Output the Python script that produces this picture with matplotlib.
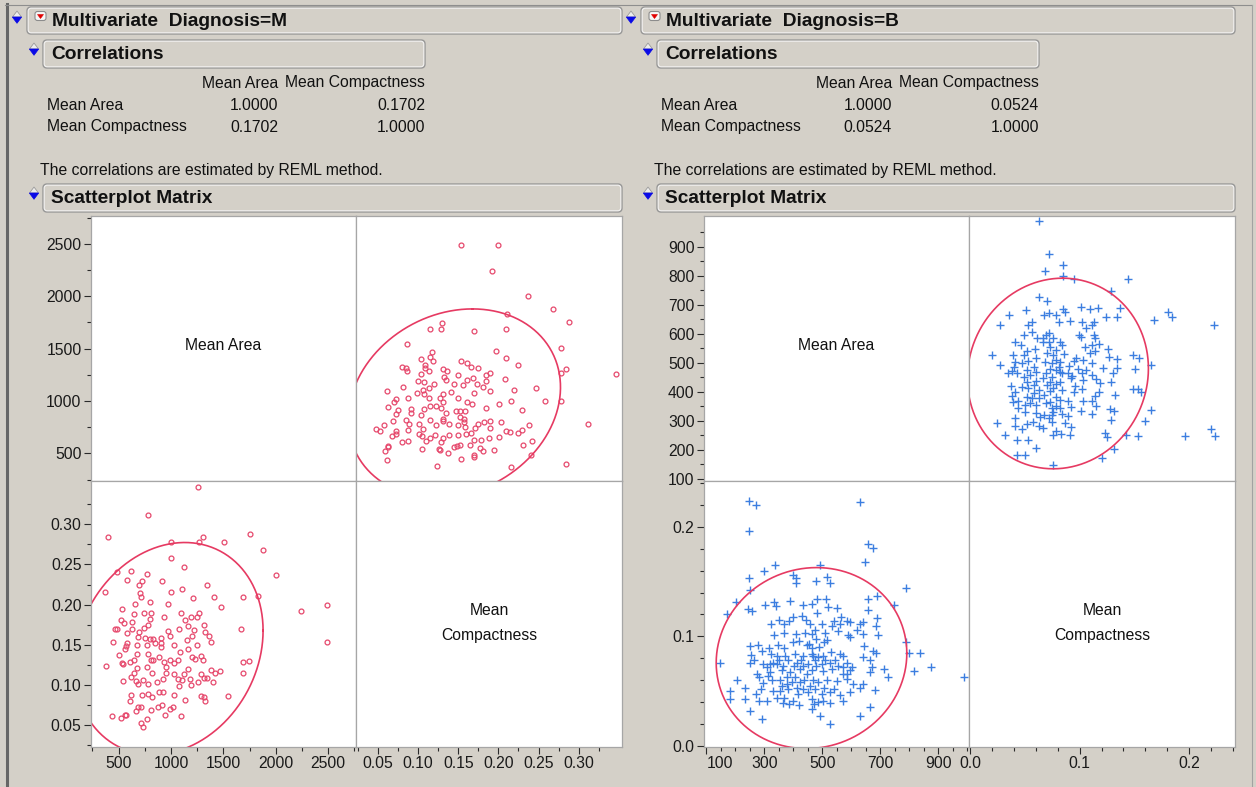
import numpy as np
import matplotlib.pyplot as plt
from matplotlib.patches import FancyBboxPatch, Polygon
from matplotlib.lines import Line2D
from matplotlib.transforms import Affine2D
from matplotlib.ticker import FixedLocator

# ---- values ----
variables = ['Mean Area', 'Mean Compactness']
groups = ['M', 'B']
corr_m = 0.1702
corr_b = 0.0524

# 95% density ellipse parameters (mean, sd) read from the ellipse extents
ell_m = dict(mx=978.4, sx=367.9, my=0.1452, sy=0.0540, r=corr_m)
ell_b = dict(mx=462.8, sx=134.3, my=0.0801, sy=0.0338, r=corr_b)

# (mean area, mean compactness), Diagnosis = M
m_pairs = [
    (1253, 0.346), (778, 0.312), (399, 0.284), (1753, 0.288), (1003, 0.278), (1263, 0.278),
    (1310, 0.284), (1509, 0.278), (1874, 0.268), (1003, 0.258), (1120, 0.247), (2000, 0.237),
    (487, 0.241), (620, 0.242), (769, 0.238), (582, 0.231), (721, 0.229), (918, 0.230),
    (693, 0.224), (1348, 0.224), (371, 0.216), (1003, 0.216), (1104, 0.219), (705, 0.214),
    (715, 0.210), (1411, 0.210), (1684, 0.210), (1832, 0.211), (1212, 0.208), (2241, 0.192),
    (2487, 0.200), (2487, 0.153), (528, 0.195), (658, 0.201), (800, 0.203), (972, 0.201),
    (1481, 0.197), (649, 0.188), (740, 0.189), (810, 0.190), (1095, 0.190), (934, 0.184),
    (1193, 0.185), (1266, 0.189), (1244, 0.185), (519, 0.181), (800, 0.182), (553, 0.177),
    (630, 0.178), (782, 0.175), (1136, 0.181), (1316, 0.175), (461, 0.170), (487, 0.170),
    (627, 0.170), (744, 0.171), (1165, 0.173), (1329, 0.166), (1671, 0.169), (582, 0.165),
    (690, 0.166), (968, 0.167), (1079, 0.169), (1215, 0.168), (680, 0.160), (747, 0.159),
    (804, 0.157), (829, 0.157), (908, 0.158), (987, 0.161), (1202, 0.161), (1367, 0.161),
    (449, 0.153), (575, 0.152), (674, 0.150), (848, 0.152), (908, 0.152), (1032, 0.150),
    (1149, 0.156), (1158, 0.145), (1250, 0.150), (1386, 0.153), (556, 0.145), (572, 0.149),
    (769, 0.150), (908, 0.147), (1085, 0.141), (503, 0.137), (677, 0.139), (782, 0.139),
    (889, 0.135), (1199, 0.135), (1285, 0.136), (531, 0.127), (611, 0.129), (649, 0.131),
    (813, 0.131), (829, 0.131), (937, 0.129), (991, 0.131), (1063, 0.131), (1231, 0.132),
    (1301, 0.131), (383, 0.124), (544, 0.126), (671, 0.121), (766, 0.122), (956, 0.122),
    (1032, 0.127), (1158, 0.120), (1383, 0.119), (1468, 0.117), (1744, 0.130), (1684, 0.128),
    (649, 0.115), (820, 0.115), (949, 0.115), (1032, 0.113), (1123, 0.113), (1285, 0.114),
    (1421, 0.115), (1684, 0.115), (621, 0.110), (668, 0.105), (544, 0.105), (728, 0.106),
    (924, 0.107), (1066, 0.107), (1107, 0.106), (1180, 0.107), (1316, 0.109), (1341, 0.109),
    (1256, 0.104), (1399, 0.104), (867, 0.104), (680, 0.101), (782, 0.101), (1079, 0.098),
    (1190, 0.100), (614, 0.087), (725, 0.088), (782, 0.089), (889, 0.091), (924, 0.091),
    (1028, 0.088), (1288, 0.086), (1313, 0.085), (1548, 0.086), (604, 0.080), (820, 0.085),
    (1136, 0.081), (1326, 0.080), (668, 0.067), (687, 0.073), (712, 0.072), (810, 0.069),
    (873, 0.072), (911, 0.075), (943, 0.063), (991, 0.070), (1019, 0.072), (433, 0.061),
    (519, 0.059), (572, 0.063), (563, 0.062), (769, 0.057), (1098, 0.061), (709, 0.052),
    (731, 0.047),
]

# (mean area, mean compactness), Diagnosis = B
b_pairs = [
    (248, 0.224), (272, 0.220), (629, 0.223), (246, 0.196), (656, 0.184), (674, 0.181),
    (648, 0.168), (492, 0.165), (338, 0.165), (299, 0.160), (247, 0.153), (400, 0.156),
    (408, 0.153), (408, 0.149), (478, 0.151), (517, 0.154), (525, 0.149), (249, 0.142),
    (787, 0.144), (204, 0.131), (171, 0.120), (245, 0.125), (259, 0.123), (303, 0.129),
    (333, 0.131), (342, 0.128), (389, 0.132), (435, 0.129), (464, 0.130), (483, 0.134),
    (514, 0.134), (520, 0.127), (483, 0.121), (549, 0.126), (656, 0.134), (659, 0.124),
    (687, 0.137), (747, 0.129), (690, 0.117), (563, 0.118), (541, 0.114), (323, 0.111),
    (352, 0.115), (369, 0.111), (386, 0.114), (398, 0.118), (430, 0.119), (443, 0.115),
    (458, 0.111), (498, 0.111), (533, 0.109), (561, 0.111), (584, 0.114), (595, 0.113),
    (630, 0.111), (641, 0.113), (685, 0.109), (693, 0.101), (334, 0.101), (369, 0.103),
    (408, 0.102), (441, 0.103), (465, 0.102), (474, 0.106), (509, 0.103), (555, 0.105),
    (589, 0.101), (620, 0.106), (641, 0.102), (400, 0.095), (418, 0.096), (455, 0.093),
    (480, 0.098), (506, 0.095), (515, 0.097), (595, 0.099), (790, 0.095), (251, 0.091),
    (279, 0.092), (316, 0.089), (346, 0.092), (368, 0.089), (446, 0.092), (463, 0.089),
    (487, 0.090), (529, 0.086), (561, 0.084), (644, 0.091), (674, 0.087), (685, 0.085),
    (800, 0.085), (837, 0.085), (254, 0.083), (264, 0.078), (293, 0.087), (322, 0.084),
    (343, 0.082), (371, 0.082), (405, 0.084), (434, 0.082), (463, 0.084), (486, 0.081),
    (503, 0.082), (572, 0.082), (641, 0.081), (664, 0.078), (148, 0.076), (251, 0.076),
    (297, 0.075), (318, 0.075), (343, 0.075), (382, 0.078), (404, 0.073), (427, 0.078),
    (452, 0.075), (463, 0.069), (475, 0.078), (498, 0.075), (526, 0.076), (543, 0.078),
    (584, 0.076), (601, 0.072), (670, 0.072), (712, 0.070), (875, 0.072), (817, 0.068),
    (988, 0.063), (274, 0.066), (309, 0.072), (320, 0.067), (360, 0.069), (387, 0.067),
    (423, 0.070), (446, 0.066), (503, 0.068), (532, 0.070), (572, 0.066), (595, 0.069),
    (664, 0.067), (727, 0.063), (205, 0.060), (235, 0.053), (182, 0.050), (182, 0.043),
    (235, 0.043), (280, 0.063), (295, 0.057), (290, 0.052), (326, 0.060), (331, 0.050),
    (354, 0.060), (377, 0.063), (395, 0.058), (406, 0.063), (423, 0.058), (437, 0.060),
    (469, 0.060), (486, 0.058), (515, 0.060), (549, 0.059), (584, 0.061), (607, 0.056),
    (630, 0.053), (641, 0.056), (683, 0.051), (272, 0.047), (280, 0.041), (309, 0.041),
    (343, 0.044), (354, 0.050), (368, 0.044), (383, 0.052), (400, 0.041), (417, 0.047),
    (435, 0.052), (452, 0.049), (463, 0.043), (475, 0.052), (498, 0.047), (507, 0.053),
    (526, 0.049), (540, 0.052), (561, 0.046), (572, 0.041), (595, 0.049), (366, 0.039),
    (386, 0.038), (421, 0.037), (463, 0.034), (471, 0.038), (486, 0.040), (503, 0.041),
    (526, 0.039), (664, 0.035), (630, 0.027), (251, 0.032), (291, 0.024), (492, 0.027),
    (526, 0.020), (349, 0.078), (366, 0.073), (412, 0.076), (435, 0.073), (467, 0.082),
    (480, 0.073), (509, 0.078), (555, 0.073), (570, 0.072), (584, 0.066), (458, 0.055),
    (360, 0.055), (314, 0.064), (331, 0.076), (377, 0.056), (412, 0.053),
]

# axis ranges and tick values
m_area_lim = (236, 2766)
m_comp_lim = (0.0226, 0.354)
b_area_lim = (92, 1006)
b_comp_lim = (-0.0012, 0.242)

m_area_major = [500, 1000, 1500, 2000, 2500]
m_area_minor = [250, 750, 1250, 1750, 2250, 2750]
m_comp_major = [0.05, 0.10, 0.15, 0.20, 0.25, 0.30]
m_comp_minor = [0.025, 0.075, 0.125, 0.175, 0.225, 0.275, 0.325]
b_area_y_major = [100, 200, 300, 400, 500, 600, 700, 800, 900]
b_area_y_minor = [150, 250, 350, 450, 550, 650, 750, 850, 950]
b_area_x_major = [100, 300, 500, 700, 900]
b_area_x_minor = [150, 200, 250, 350, 400, 450, 550, 600, 650, 750, 800, 850, 950, 1000]
b_comp_major = [0.0, 0.1, 0.2]
b_comp_minor = [0.02, 0.04, 0.06, 0.08, 0.12, 0.14, 0.16, 0.18, 0.22, 0.24]

# ---- styling ----
W, H = 1256, 787
BG = '#D4D0C8'
RED = '#E6486C'
ELL = '#E63A62'
BLUE = '#3C7EE0'
FS = 11.3

plt.rcParams['font.family'] = ['Liberation Sans', 'DejaVu Sans']

fig = plt.figure(figsize=(W / 100, H / 100), dpi=100, facecolor=BG)
pix = Affine2D().scale(1, -1).translate(0, H)   # pixel coords, origin top-left


def rect(x0, y0, x1, y1):
    return [x0 / W, 1 - y1 / H, (x1 - x0) / W, (y1 - y0) / H]


def txt(x, y, s, **kw):
    kw.setdefault('fontsize', FS)
    kw.setdefault('va', 'center')
    fig.text(x, y, s, transform=pix, color='#111111', **kw)


def outline_box(x0, y0, x1, y1, title, tx):
    fig.add_artist(FancyBboxPatch((x0, y0), x1 - x0, y1 - y0,
                                  boxstyle='round,pad=0,rounding_size=4',
                                  transform=pix, fc=BG, ec='#989898', lw=1.0))
    fig.add_artist(FancyBboxPatch((x0 + 1.2, y0 + 1.2), x1 - x0 - 2.4, y1 - y0 - 2.4,
                                  boxstyle='round,pad=0,rounding_size=3',
                                  transform=pix, fc='none', ec='#F4F4F4', lw=0.7))
    txt(tx, (y0 + y1) / 2 + 0.5, title, fontsize=13.8, fontweight='bold')


def disclosure(cx, cy):
    fig.add_artist(Polygon([(cx - 4.5, cy), (cx, cy - 6), (cx + 4.5, cy)], closed=True,
                           transform=pix, fc='#EDEDED', ec='#9A9A9A', lw=0.6))
    fig.add_artist(Polygon([(cx - 4.7, cy), (cx + 4.7, cy), (cx, cy + 6.3)], closed=True,
                           transform=pix, fc='#0A0AE6', ec='#0A0AE6', lw=0.5))


def red_menu(x0, y0):
    fig.add_artist(FancyBboxPatch((x0, y0), 11, 9, boxstyle='round,pad=0,rounding_size=2.5',
                                  transform=pix, fc='#F6F6F6', ec='#8C8C8C', lw=0.8))
    fig.add_artist(Polygon([(x0 + 2.5, y0 + 3), (x0 + 8.5, y0 + 3), (x0 + 5.5, y0 + 7)],
                           closed=True, transform=pix, fc='#E00000', ec='#E00000', lw=0.4))


def ellipse(mx, sx, my, sy, r):
    t = np.linspace(0, 2 * np.pi, 361)
    c = np.sqrt(5.991)
    u, v = np.cos(t), np.sin(t)
    return mx + c * sx * u, my + c * sy * (r * u + np.sqrt(1 - r * r) * v)


def panel(box):
    ax = fig.add_axes(rect(*box))
    ax.set_facecolor('white')
    for s in ax.spines.values():
        s.set_color('#A6A6A6')
        s.set_linewidth(0.9)
    ax.tick_params(which='both', left=False, bottom=False, labelleft=False, labelbottom=False,
                   direction='out', color='#2A2A2A', width=0.8, labelsize=FS,
                   labelcolor='#1A1A1A', pad=1.8)
    ax.tick_params(which='major', length=5)
    ax.tick_params(which='minor', length=2.6)
    return ax


def yaxis_on(ax, major, minor, fmt):
    ax.tick_params(which='both', left=True, labelleft=True)
    ax.yaxis.set_major_locator(FixedLocator(major))
    ax.yaxis.set_minor_locator(FixedLocator(minor))
    ax.yaxis.set_major_formatter(fmt)


def xaxis_on(ax, major, minor, fmt):
    ax.tick_params(which='both', bottom=True, labelbottom=True)
    ax.xaxis.set_major_locator(FixedLocator(major))
    ax.xaxis.set_minor_locator(FixedLocator(minor))
    ax.xaxis.set_major_formatter(fmt)


def report(x0, right, grp, corr, pairs, ell, area_lim, comp_lim, mark, ticks):
    # outline headers
    outline_box(x0 + 27, 7, right, 34, f'Multivariate  Diagnosis={grp}', x0 + 52)
    disclosure(x0 + 17, 17)
    red_menu(x0 + 35, 11.5)
    outline_box(x0 + 43, 40, x0 + 425, 68, 'Correlations', x0 + 51)
    disclosure(x0 + 34, 49)
    outline_box(x0 + 43, 184, right, 212, 'Scatterplot Matrix', x0 + 51)
    disclosure(x0 + 34, 193)

    # correlation table
    c1, c2 = x0 + 278, x0 + 425
    txt(c1, 83, variables[0], ha='right')
    txt(c2, 83, variables[1], ha='right')
    cm = [[1.0, corr], [corr, 1.0]]
    for i, name in enumerate(variables):
        y = 105 + 22 * i
        txt(x0 + 47, y, name, ha='left')
        txt(c1, y, f'{cm[i][0]:.4f}', ha='right')
        txt(c2, y, f'{cm[i][1]:.4f}', ha='right')
    txt(x0 + 40, 171, 'The correlations are estimated by REML method.', ha='left')

    # scatterplot matrix
    xs = [right - 531, right - 266, right]
    ys = [216, 481, 747]
    area = np.array([p[0] for p in pairs])
    comp = np.array([p[1] for p in pairs])
    ex, ey = ellipse(**ell)

    ul = panel((xs[0], ys[0], xs[1], ys[1]))
    ur = panel((xs[1], ys[0], xs[2], ys[1]))
    ll = panel((xs[0], ys[1], xs[1], ys[2]))
    lr = panel((xs[1], ys[1], xs[2], ys[2]))

    ul.set_xlim(0, 1)
    ul.set_ylim(*area_lim)
    ul.text(0.5, 0.51, variables[0], transform=ul.transAxes, ha='center', va='center',
            fontsize=FS, color='#111111')
    yaxis_on(ul, *ticks['area_y'], '{x:g}')

    lr.set_xlim(*comp_lim)
    lr.set_ylim(0, 1)
    lr.text(0.5, 0.515, 'Mean', transform=lr.transAxes, ha='center', va='center',
            fontsize=FS, color='#111111')
    lr.text(0.5, 0.418, 'Compactness', transform=lr.transAxes, ha='center', va='center',
            fontsize=FS, color='#111111')
    xaxis_on(lr, *ticks['comp'])

    ur.set_xlim(*comp_lim)
    ur.set_ylim(*area_lim)
    ur.plot(comp, area, **mark)
    ur.plot(ey, ex, color=ELL, lw=1.2)

    ll.set_xlim(*area_lim)
    ll.set_ylim(*comp_lim)
    ll.plot(area, comp, **mark)
    ll.plot(ex, ey, color=ELL, lw=1.2)
    yaxis_on(ll, *ticks['comp'])
    xaxis_on(ll, *ticks['area_x'], '{x:g}')
    return ll


m_mark = dict(ls='none', marker='o', ms=3.5, mfc='none', mec=RED, mew=0.9)
b_mark = dict(ls='none', marker='+', ms=6.4, mec=BLUE, mew=1.0)

report(0, 622, groups[0], corr_m, m_pairs, ell_m, m_area_lim, m_comp_lim, m_mark,
       {'area_y': (m_area_major, m_area_minor),
        'area_x': (m_area_major, m_area_minor),
        'comp': (m_comp_major, m_comp_minor, '{x:.2f}')})
b_ll = report(614, 1235, groups[1], corr_b, b_pairs, ell_b, b_area_lim, b_comp_lim, b_mark,
              {'area_y': (b_area_y_major, b_area_y_minor),
               'area_x': (b_area_x_major, b_area_x_minor),
               'comp': (b_comp_major, b_comp_minor, '{x:.1f}')})
# JMP keeps the first area label inside the frame
b_ll.xaxis.get_major_ticks()[0].label1.set_horizontalalignment('left')

# window frame lines
fig.add_artist(Line2D([6.5, 6.5], [4, H], transform=pix, color='#666666', lw=2.2))
fig.add_artist(Line2D([5, 1252], [4.5, 4.5], transform=pix, color='#8E8E8E', lw=0.8))
fig.add_artist(Line2D([1252, 1252], [4.5, H], transform=pix, color='#A2A2A2', lw=0.8))

fig.savefig('out.png', dpi=100, facecolor=BG)
